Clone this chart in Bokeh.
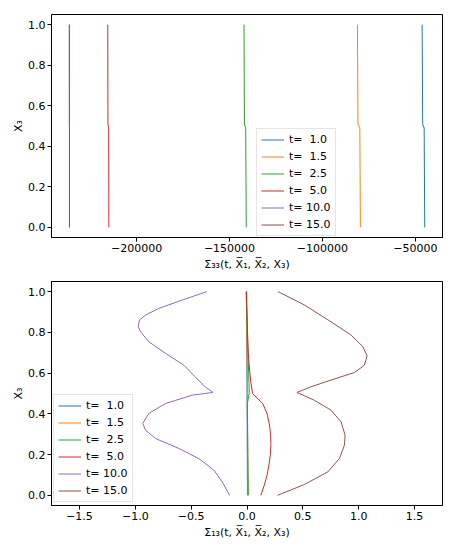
from bokeh.plotting import figure
from bokeh.models import Range1d, FixedTicker
from bokeh.layouts import column
from bokeh.embed import file_html
from bokeh.resources import INLINE

# ---------------- data ----------------
labels = ["t=  1.0", "t=  1.5", "t=  2.5", "t=  5.0", "t= 10.0", "t= 15.0"]
colors = ["#1f77b4", "#ff7f0e", "#2ca02c", "#d62728", "#9467bd", "#8c564b"]

# top panel: Sigma_33 vs X3
x3_top = [0.0, 0.49, 0.51, 1.0]
s33_t1 = [-45000, -45300, -46100, -46400]
s33_t1_5 = [-79600, -79900, -80900, -81200]
s33_t2_5 = [-141000, -141300, -142000, -142200]
s33_t5 = [-214900, -215000, -215400, -215500]
s33_t10 = [-236100, -236100, -236100, -236100]
s33_t15 = [-236100, -236100, -236150, -236200]

# bottom panel: Sigma_13 vs X3
x3_bot = [0.0, 0.05, 0.1, 0.15, 0.2, 0.25, 0.3, 0.35, 0.4, 0.45, 0.5,
          0.55, 0.6, 0.65, 0.7, 0.75, 0.8, 0.85, 0.9, 0.95, 1.0]
s13_t1 = [0.004, 0.004, 0.003, 0.003, 0.003, 0.002, 0.002, 0.002, 0.001, 0.001, 0.000,
          0.000, -0.001, -0.001, -0.001, -0.002, -0.002, -0.002, -0.003, -0.003, -0.003]
s13_t1_5 = [0.008, 0.008, 0.007, 0.007, 0.006, 0.006, 0.005, 0.005, 0.004, 0.004, 0.006,
            0.004, 0.003, 0.002, 0.001, 0.000, -0.001, -0.002, -0.003, -0.004, -0.005]
s13_t2_5 = [0.012, 0.011, 0.010, 0.009, 0.008, 0.007, 0.006, 0.005, 0.004, 0.003, 0.020,
            0.018, 0.015, 0.012, 0.009, 0.006, 0.003, 0.000, -0.003, -0.006, -0.008]
s13_t5 = [0.124, 0.155, 0.180, 0.197, 0.209, 0.214, 0.212, 0.200, 0.180, 0.142, 0.050,
          0.036, 0.026, 0.018, 0.012, 0.008, 0.005, 0.002, 0.000, -0.003, -0.005]

x3_t10 = [0.0, 0.065, 0.123, 0.180, 0.230, 0.279, 0.320, 0.353, 0.402, 0.451, 0.492, 0.505,
          0.533, 0.582, 0.639, 0.697, 0.754, 0.803, 0.828, 0.861, 0.885, 0.918, 0.959, 1.0]
s13_t10 = [-0.157, -0.220, -0.295, -0.430, -0.609, -0.819, -0.908, -0.933, -0.879, -0.729, -0.489, -0.304,
           -0.375, -0.465, -0.565, -0.729, -0.879, -0.953, -0.974, -0.962, -0.908, -0.789, -0.579, -0.361]

x3_t15 = [0.0, 0.053, 0.115, 0.180, 0.246, 0.295, 0.361, 0.418, 0.467, 0.505,
          0.533, 0.566, 0.603, 0.639, 0.685, 0.730, 0.787, 0.852, 0.935, 1.0]
s13_t15 = [0.274, 0.513, 0.723, 0.827, 0.872, 0.878, 0.842, 0.752, 0.602, 0.447,
           0.573, 0.752, 0.962, 1.051, 1.075, 1.037, 0.932, 0.752, 0.513, 0.279]

# ticks
top_xticks = [-200000, -150000, -100000, -50000]
top_xtick_labels = ["\u2212200000", "\u2212150000", "\u2212100000", "\u221250000"]
bot_xticks = [-1.5, -1.0, -0.5, 0.0, 0.5, 1.0, 1.5]
bot_xtick_labels = ["\u22121.5", "\u22121.0", "\u22120.5", "0.0", "0.5", "1.0", "1.5"]
yticks = [0.0, 0.2, 0.4, 0.6, 0.8, 1.0]
ytick_labels = ["0.0", "0.2", "0.4", "0.6", "0.8", "1.0"]

xlabel_top = "\u03a3\u2083\u2083(t, X\u0305\u2081, X\u0305\u2082, X\u2083)"
xlabel_bot = "\u03a3\u2081\u2083(t, X\u0305\u2081, X\u0305\u2082, X\u2083)"
ylabel = "X\u2083"

FONT = "DejaVu Sans"


def style(p, xticks, xlabels):
    p.xgrid.visible = False
    p.ygrid.visible = False
    p.outline_line_color = "black"
    p.outline_line_width = 1
    p.background_fill_color = "white"
    p.border_fill_color = "white"
    for ax in (p.xaxis[0], p.yaxis[0]):
        ax.axis_line_color = "black"
        ax.major_tick_line_color = "black"
        ax.major_tick_out = 4
        ax.major_tick_in = 0
        ax.minor_tick_line_color = None
        ax.major_label_text_font = FONT
        ax.major_label_text_font_size = "11px"
        ax.major_label_text_color = "black"
        ax.axis_label_text_font = FONT
        ax.axis_label_text_font_size = "11px"
        ax.axis_label_text_font_style = "normal"
        ax.axis_label_text_color = "black"
        ax.major_label_standoff = 2
        ax.axis_label_standoff = 3
    p.yaxis[0].axis_label_standoff = 0
    p.xaxis[0].ticker = FixedTicker(ticks=xticks)
    p.xaxis[0].major_label_overrides = {t: l for t, l in zip(xticks, xlabels)}
    p.yaxis[0].ticker = FixedTicker(ticks=yticks)
    p.yaxis[0].major_label_overrides = {t: l for t, l in zip(yticks, ytick_labels)}
    p.yaxis[0].axis_label = ylabel


def style_legend(p, loc):
    lg = p.legend[0]
    lg.location = loc
    lg.label_text_font = FONT
    lg.label_text_font_size = "11px"
    lg.label_text_color = "black"
    lg.border_line_color = "#cccccc"
    lg.border_line_width = 1
    lg.background_fill_alpha = 0.8
    lg.padding = 4
    lg.spacing = 4
    lg.margin = 0
    lg.label_height = 13
    lg.glyph_height = 13
    lg.glyph_width = 23
    lg.label_standoff = 5


# ---------------- top figure ----------------
top_series = [s33_t1, s33_t1_5, s33_t2_5, s33_t5, s33_t10, s33_t15]
allx = [v for s in top_series for v in s]
span = max(allx) - min(allx)
p1 = figure(width=456, height=275, output_backend="svg", toolbar_location=None,
            x_range=Range1d(min(allx) - 0.05 * span, max(allx) + 0.05 * span),
            y_range=Range1d(-0.05, 1.05),
            min_border_left=51, min_border_right=14, min_border_top=14, min_border_bottom=38)
for s, c, l in zip(top_series, colors, labels):
    p1.line(s, x3_top, line_color=c, line_width=1, legend_label=l)
style(p1, top_xticks, top_xtick_labels)
p1.xaxis[0].axis_label = xlabel_top
style_legend(p1, (205, 1))

# ---------------- bottom figure ----------------
bot_x = [s13_t1, s13_t1_5, s13_t2_5, s13_t5, s13_t10, s13_t15]
bot_y = [x3_bot, x3_bot, x3_bot, x3_bot, x3_t10, x3_t15]
p2 = figure(width=456, height=275, output_backend="svg", toolbar_location=None,
            x_range=Range1d(-1.75, 1.75), y_range=Range1d(-0.05, 1.05),
            min_border_left=51, min_border_right=14, min_border_top=6, min_border_bottom=45)
for sx, sy, c, l in zip(bot_x, bot_y, colors, labels):
    p2.line(sx, sy, line_color=c, line_width=1, legend_label=l)
style(p2, bot_xticks, bot_xtick_labels)
p2.xaxis[0].axis_label = xlabel_bot
style_legend(p2, (2, 3))

layout = column(p1, p2, spacing=0)
open("out.html", "w").write(file_html(layout, INLINE))
